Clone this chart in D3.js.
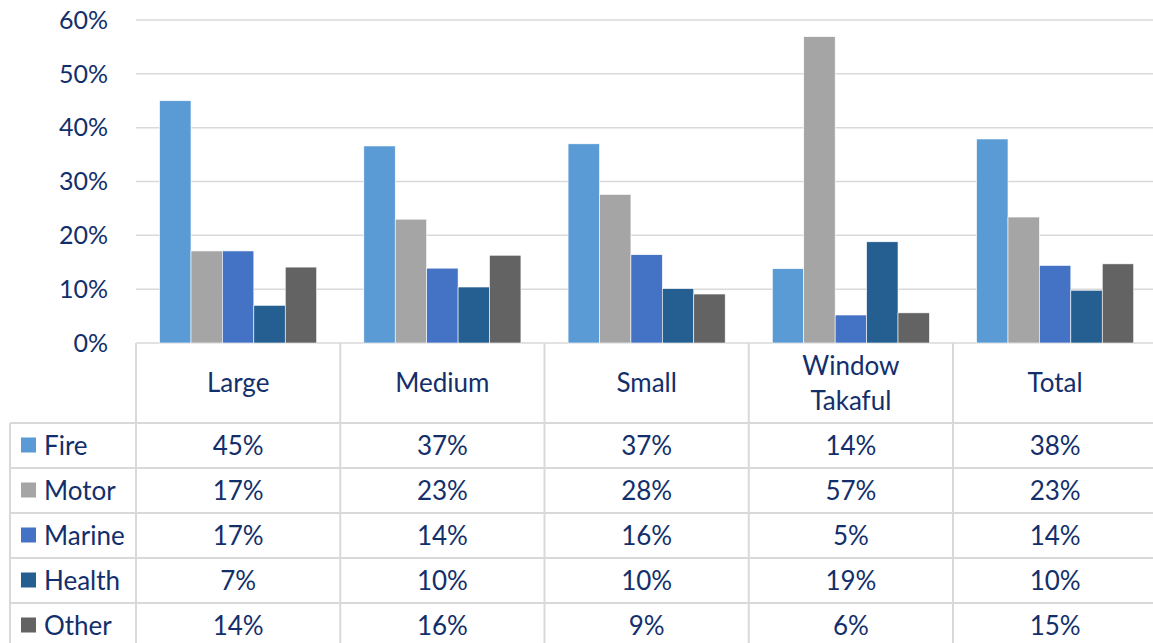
<!DOCTYPE html>
<html>
<head>
<meta charset="utf-8">
<script src="https://cdn.jsdelivr.net/npm/d3@7"></script>
<style>
  body { margin: 0; background: #fff; }
  svg { display: block; font-family: Lato, "Open Sans", sans-serif; }
</style>
</head>
<body>
<div id="chart"></div>
<script>
// ---- data (percent) ----
var categories = ["Large", "Medium", "Small", "Window Takaful", "Total"];
var seriesNames = ["Fire", "Motor", "Marine", "Health", "Other"];
var fire   = [45.0, 36.6, 37.0, 13.8, 37.9];
var motor  = [17.1, 23.0, 27.6, 56.9, 23.4];
var marine = [17.1, 13.9, 16.4, 5.2, 14.4];
var health = [7.0, 10.4, 10.1, 18.8, 9.8];
var other  = [14.1, 16.3, 9.1, 5.6, 14.7];
var colors = ["#5B9BD5", "#A5A5A5", "#4472C4", "#255E91", "#636363"];
var yTicks = [0, 10, 20, 30, 40, 50, 60];

var series = [fire, motor, marine, health, other];

var canvas_width = 1153, canvas_height = 643;
var textColor = "#132f6b";
var lineColor = "#D9D9D9";
var fontSize = "26px";

var svg = d3.select("#chart")
    .append("svg")
    .attr("width", canvas_width)
    .attr("height", canvas_height);

// plot area
var plotLeft = 136, colW = 204.25;
var x0 = d3.scaleBand()
    .domain(categories)
    .range([plotLeft, plotLeft + colW * categories.length]);
var x1 = d3.scaleBand()
    .domain(seriesNames)
    .range([0, x0.bandwidth()])
    .paddingInner(0)
    .paddingOuter(0.75);
var y = d3.scaleLinear().domain([0, 60]).range([343, 20]);

// gridlines
svg.append("g").selectAll("line")
    .data(yTicks)
    .enter().append("line")
    .attr("x1", plotLeft).attr("x2", canvas_width)
    .attr("y1", function(d) { return y(d); })
    .attr("y2", function(d) { return y(d); })
    .attr("stroke", lineColor)
    .attr("stroke-width", 1.5);

// y axis labels
svg.append("g").selectAll("text")
    .data(yTicks)
    .enter().append("text")
    .attr("x", 108)
    .attr("y", function(d) { return y(d); })
    .attr("dy", "0.35em")
    .attr("text-anchor", "end")
    .attr("fill", textColor)
    .style("font-size", "25px")
    .text(function(d) { return d + "%"; });

// bars
var groups = svg.append("g").selectAll("g")
    .data(categories)
    .enter().append("g")
    .attr("transform", function(d) { return "translate(" + x0(d) + ",0)"; });

groups.selectAll("rect")
    .data(function(c, ci) {
        return seriesNames.map(function(s, si) { return { s: s, si: si, v: series[si][ci] }; });
    })
    .enter().append("rect")
    .attr("x", function(d) { return x1(d.s); })
    .attr("y", function(d) { return y(d.v); })
    .attr("width", x1.bandwidth())
    .attr("height", function(d) { return y(0) - y(d.v); })
    .attr("fill", function(d) { return colors[d.si]; })
    .attr("stroke", "#fff")
    .attr("stroke-width", 0.6);

// ---- data table ----
var headTop = 343, headBottom = 423, rowH = 45, tableLeft = 10;
var rowY = d3.scaleBand()
    .domain(seriesNames)
    .range([headBottom, headBottom + rowH * seriesNames.length]);

var grid = svg.append("g").attr("stroke", lineColor).attr("stroke-width", 2);
// horizontal row lines
grid.selectAll("line.h")
    .data(seriesNames)
    .enter().append("line")
    .attr("x1", tableLeft).attr("x2", canvas_width)
    .attr("y1", function(d) { return rowY(d); })
    .attr("y2", function(d) { return rowY(d); });
// column lines
grid.selectAll("line.v")
    .data(categories)
    .enter().append("line")
    .attr("x1", function(d) { return x0(d); })
    .attr("x2", function(d) { return x0(d); })
    .attr("y1", headTop).attr("y2", canvas_height);
grid.append("line")
    .attr("x1", tableLeft).attr("x2", tableLeft)
    .attr("y1", headBottom).attr("y2", canvas_height);

// header labels
svg.append("g").selectAll("text")
    .data(categories)
    .enter().append("text")
    .attr("x", function(d) { return x0(d) + x0.bandwidth() / 2; })
    .attr("text-anchor", "middle")
    .attr("fill", textColor)
    .style("font-size", fontSize)
    .each(function(d) {
        var el = d3.select(this);
        var parts = d === "Window Takaful" ? ["Window", "Takaful"] : [d];
        var mid = (headTop + headBottom) / 2;
        parts.forEach(function(p, i) {
            el.append("tspan")
                .attr("x", x0(d) + x0.bandwidth() / 2)
                .attr("y", mid + (i - (parts.length - 1) / 2) * 35)
                .attr("dy", "0.35em")
                .text(p);
        });
    });

// legend keys + names
var legend = svg.append("g").selectAll("g")
    .data(seriesNames)
    .enter().append("g")
    .attr("transform", function(d) { return "translate(0," + (rowY(d) + rowH / 2) + ")"; });
legend.append("rect")
    .attr("x", 21).attr("y", -8)
    .attr("width", 15).attr("height", 15)
    .attr("fill", function(d, i) { return colors[i]; });
legend.append("text")
    .attr("x", 44)
    .attr("dy", "0.35em")
    .attr("fill", textColor)
    .style("font-size", fontSize)
    .text(function(d) { return d; });

// values
seriesNames.forEach(function(s, si) {
    svg.append("g").selectAll("text")
        .data(series[si])
        .enter().append("text")
        .attr("x", function(d, ci) { return x0(categories[ci]) + x0.bandwidth() / 2; })
        .attr("y", rowY(s) + rowH / 2)
        .attr("dy", "0.35em")
        .attr("text-anchor", "middle")
        .attr("fill", textColor)
        .style("font-size", fontSize)
        .text(function(d) { return Math.round(d) + "%"; });
});
</script>
</body>
</html>
